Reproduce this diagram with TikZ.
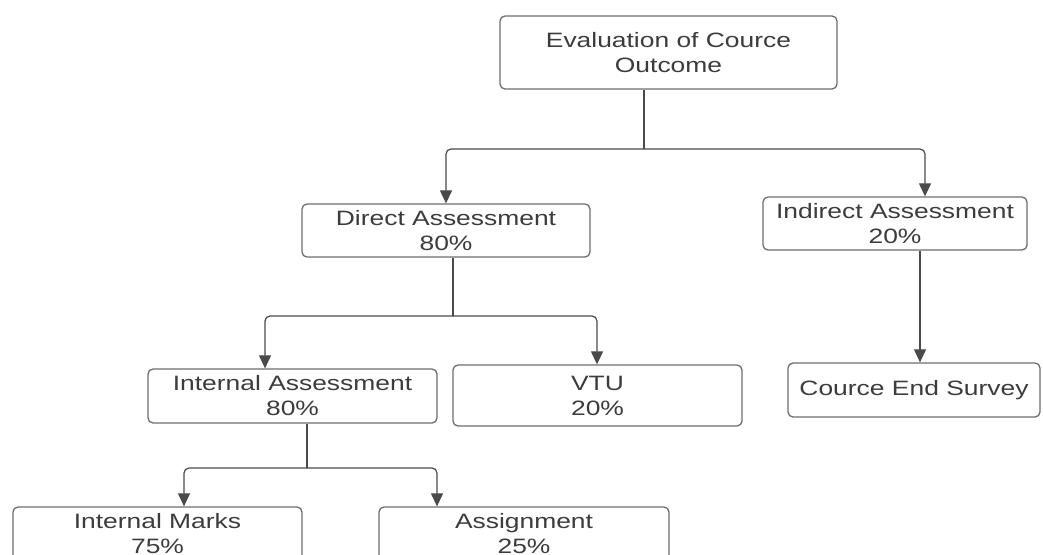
\documentclass[tikz,border=0pt]{standalone}
\usepackage{fontspec}
\setmainfont{Liberation Sans}[FakeStretch=1.27]
\usetikzlibrary{arrows.meta}
\definecolor{txt}{HTML}{3C3C3C}
\definecolor{ln}{HTML}{4A4A4A}
\definecolor{bd}{HTML}{6E6E6E}
\begin{document}
\begin{tikzpicture}[x=1pt,y=-1pt,
  box/.style={draw=bd, line width=1.3pt, rounded corners=5pt, inner sep=0pt,
    align=center, text=txt, font=\fontsize{20.8}{25}\selectfont},
  conn/.style={draw=ln, line width=1.2pt, rounded corners=5pt},
  arr/.style={-{Triangle[width=12pt,length=13pt]}}]
\useasboundingbox (0,0) rectangle (1043,554);
\fill[white] (0,0) rectangle (1043,554);
\clip (0,0) rectangle (1043,554);

\node[box, minimum width=337pt, minimum height=73pt] (top) at (668.5,52.5) {Evaluation of Cource\\Outcome};
\node[box, minimum width=288pt, minimum height=53pt] (direct) at (446,230.5) {Direct Assessment\\80\%};
\node[box, minimum width=264pt, minimum height=53pt] (indirect) at (895,223.5) {Indirect Assessment\\20\%};
\node[box, minimum width=289pt, minimum height=54pt] (internal) at (292.5,396) {Internal Assessment\\80\%};
\node[box, minimum width=289pt, minimum height=61pt] (vtu) at (597.5,395.5) {VTU\\20\%};
\node[box, minimum width=252pt, minimum height=54pt] (survey) at (914,390) {Cource End Survey};
\node[box, minimum width=289pt, minimum height=54pt] (imarks) at (157.5,534) {Internal Marks\\75\%};
\node[box, minimum width=290pt, minimum height=54pt] (assign) at (524,534) {Assignment\\25\%};

\coordinate (j1) at (644,149);
\coordinate (j1l) at (446,149);
\coordinate (j1r) at (925,149);
\draw[conn] (top.south -| j1) -- (j1);
\draw[conn,arr] (j1) -- (j1l) -- (direct.north -| j1l);
\draw[conn,arr] (j1) -- (j1r) -- (indirect.north -| j1r);

\coordinate (j2) at (453,316);
\coordinate (j2l) at (265,316);
\coordinate (j2r) at (597,316);
\draw[conn] (direct.south -| j2) -- (j2);
\draw[conn,arr] (j2) -- (j2l) -- (internal.north -| j2l);
\draw[conn,arr] (j2) -- (j2r) -- (vtu.north -| j2r);

\coordinate (k) at (920,300);
\draw[conn,arr] (indirect.south -| k) -- (survey.north -| k);

\coordinate (j3) at (307,468);
\coordinate (j3l) at (184,468);
\coordinate (j3r) at (437,468);
\draw[conn] (internal.south -| j3) -- (j3);
\draw[conn,arr] (j3) -- (j3l) -- (imarks.north -| j3l);
\draw[conn,arr] (j3) -- (j3r) -- (assign.north -| j3r);
\end{tikzpicture}
\end{document}
